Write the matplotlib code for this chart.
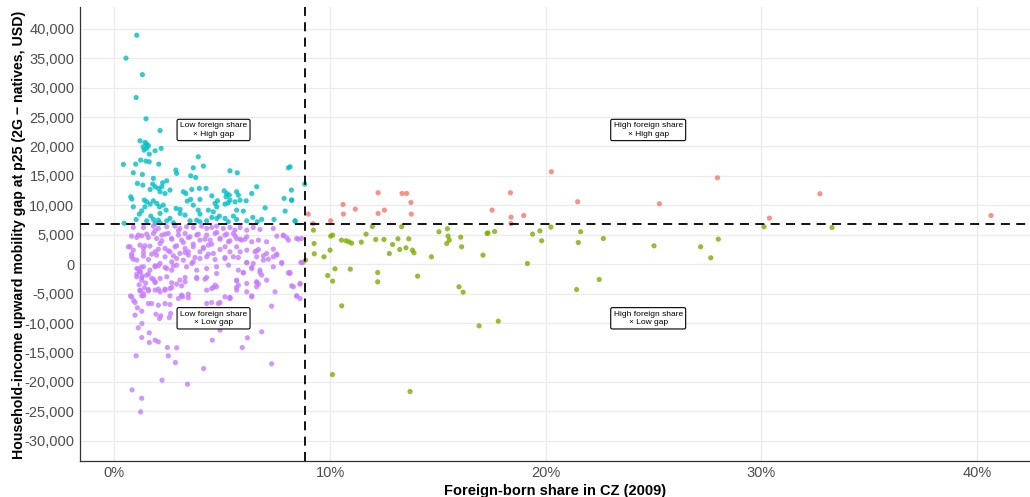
import numpy as np
import matplotlib.pyplot as plt

# foreign-born share (%) and 2G - natives gap (USD) per commuting zone, by quadrant
low_high_x = [1.04, 0.54, 1.30, 1.01, 1.47, 2.12, 0.45,
              1.19, 1.42, 1.50, 1.58, 1.34, 1.50, 1.38, 1.62, 1.89, 2.17,
              0.42, 0.99, 1.22, 1.46, 1.62, 2.06, 3.89, 3.66, 2.85, 2.89,
              4.13, 5.36, 5.70, 0.88, 1.30, 1.81, 3.54, 3.77, 8.07,
              2.43, 2.24, 1.07, 1.32, 1.78, 1.89, 2.04, 2.20, 1.66, 2.12,
              2.35, 2.58, 3.20, 3.32, 3.59, 3.94, 4.25, 4.52, 5.09, 5.21,
              5.18, 5.33, 5.36, 5.28, 5.67, 5.75, 5.83, 5.60, 6.11, 6.37,
              6.60, 8.83, 8.21, 7.87, 8.22, 0.76, 0.81, 1.39, 1.50, 1.66,
              0.88, 1.42, 1.27, 1.81, 1.97, 2.09, 2.27, 2.40, 2.12, 1.69,
              1.16, 1.01, 1.50, 1.81, 2.04, 2.58, 2.86, 3.05, 3.05, 3.38,
              3.54, 3.97, 3.66, 3.28, 3.89, 3.97, 4.36, 4.59, 4.67, 4.78,
              5.13, 4.52, 4.28, 3.82, 3.97, 4.75, 4.87, 5.13, 5.28, 5.52,
              5.67, 5.98, 6.42, 6.83, 6.99, 7.40, 7.92, 8.38, 4.75, 3.51,
              2.74, 2.12, 1.89, 2.43, 5.67, 6.14, 6.63, 8.15, 8.22, 8.38]
low_high_y = [38900, 35000, 32200, 28300, 24700, 22700, 6950,
              20960, 20690, 20400, 20110, 19940, 19670, 19380, 18700, 19260, 19670,
              16950, 17000, 17680, 17510, 17390, 17000, 18240, 16370, 15980, 15420,
              16660, 15860, 15520, 15520, 15240, 14570, 15010, 14730, 16370,
              14160, 13830, 13720, 13430, 13600, 13150, 12870, 13150, 12690, 12300,
              12010, 12580, 12300, 12010, 12690, 12870, 12870, 11610, 12460, 12010,
              11440, 11730, 10880, 10420, 12300, 11730, 10880, 10590, 10760, 12010,
              13150, 13600, 12580, 11170, 10880, 11440, 11050, 10880, 10590, 10200,
              9740, 9740, 9060, 10760, 10320, 9740, 10030, 9180, 8620, 8160,
              8500, 7600, 7360, 7600, 7480, 7770, 9470, 9300, 8620, 10710,
              11000, 11000, 10030, 8330, 9180, 8500, 9180, 8890, 10320, 10760,
              10200, 7940, 7360, 7480, 7200, 7770, 8160, 7770, 7200, 8160,
              9180, 9010, 7940, 7600, 9570, 7600, 9010, 7360, 9740, 7360,
              7020, 7020, 6920, 7360, 7600, 7360, 7200, 16550, 10880, 7310]

low_low_x = [0.88, 1.35, 1.81, 2.04, 2.43, 2.81, 3.04, 3.35, 3.66, 4.05,
             4.28, 4.51, 4.74, 5.05, 5.36, 5.59, 5.83, 6.14, 6.44, 6.75,
             7.37, 7.83, 8.07, 8.45, 8.68,
             0.80, 1.11, 1.50, 1.81, 1.96, 2.20, 2.50, 2.66, 2.97, 3.12,
             3.28, 3.51, 3.82, 3.97, 4.28, 4.44, 4.67, 4.90, 5.13, 5.29,
             5.52, 5.67, 5.90, 6.14, 6.37, 6.68, 7.06, 7.53,
             0.65, 0.88, 1.19, 1.35, 1.65, 1.89, 2.12, 2.35, 2.58, 2.81,
             3.04, 3.28, 3.43, 3.66, 3.97, 4.13, 4.36, 4.59, 4.90, 5.13,
             5.36, 5.67, 5.83, 6.14, 6.52, 6.68, 7.06, 7.53,
             0.80, 1.04, 1.35, 1.58, 1.96, 2.35, 2.66, 2.89, 3.20, 3.43,
             3.66, 3.97, 4.28, 4.67, 5.13, 5.52, 6.14, 6.60, 6.91, 7.37, 7.76,
             1.04, 1.19, 1.35, 1.65, 1.89, 2.12, 2.43, 2.66, 2.89, 3.35,
             3.59, 3.82, 4.28, 4.74, 4.74, 5.29, 5.75, 5.98, 6.37, 6.75,
             6.83, 7.37, 8.07,
             1.04, 1.27, 1.50, 1.73, 1.89, 2.12, 2.43, 2.66, 3.04, 3.28,
             3.82, 4.28, 4.67, 5.67, 5.75, 6.14, 6.60, 7.06, 8.61, 8.30,
             0.80, 1.19, 1.35, 1.58, 1.89, 2.12, 2.35, 2.58, 3.12, 4.28,
             4.51, 4.74, 5.13, 5.67, 6.14, 6.60, 7.45, 8.45, 8.61,
             1.35, 0.96, 1.07, 1.27, 0.96, 1.58, 1.73, 2.04, 2.35, 2.58,
             2.97, 3.17, 3.43, 4.28, 4.51, 4.82, 4.90, 5.36, 6.37, 7.29,
             1.93, 2.15, 2.09, 2.55, 2.61, 1.28, 1.11, 1.27, 1.62, 1.89,
             2.04, 1.62, 2.46, 2.89, 4.54, 4.90, 6.17, 6.83, 5.93, 1.01,
             2.50, 2.83, 4.14, 7.29, 2.21, 3.39, 0.82, 1.27, 1.22,
             8.14, 6.44, 5.36, 8.65, 8.75, 1.20, 1.30, 1.45, 1.15, 1.40,
             1.25, 0.75, 0.90,
             0.73, 0.80, 0.88, 1.04, 1.27, 1.42, 1.35, 1.58, 1.73, 1.89,
             2.04, 2.20, 2.35, 2.50, 2.66, 2.74, 2.89, 2.97, 3.20, 3.28,
             3.43, 3.66, 3.74, 3.89, 4.13, 4.20, 4.36, 4.51, 1.11, 1.04,
             1.27, 1.58, 1.81, 1.89, 2.04, 1.19, 1.27, 1.58, 2.35, 2.66,
             2.89, 3.28, 3.12, 2.04, 2.35, 2.74, 1.89, 3.82, 4.20, 3.43,
             3.12, 2.58,
             4.75, 4.90, 5.21, 5.36, 5.60, 5.83, 6.06, 5.13, 5.75, 6.14,
             6.37, 5.98, 6.75, 6.60, 6.91, 7.14, 7.37, 7.53, 7.76, 8.14,
             8.69, 4.59, 5.67, 5.67, 6.60, 6.68, 8.22, 8.61, 5.36, 6.37,
             8.45, 7.99, 8.53, 7.84]
low_low_y = [6230, 6230, 6460, 6060, 6350, 6460, 6060, 6350, 6230, 6460,
             6060, 6230, 6460, 6060, 6230, 5780, 6230, 5780, 6230, 5890,
             6060, 4930, 4080, 4360, 4360,
             4760, 4930, 5100, 5210, 4360, 4930, 5210, 4360, 4930, 4080,
             5210, 4650, 4930, 4080, 4930, 4080, 5210, 4360, 4930, 3800,
             5210, 4360, 4080, 4650, 3800, 4080, 3800, 4760,
             2950, 2380, 3230, 2660, 3060, 2100, 3510, 2660, 2100, 2950,
             1810, 2660, 2100, 2950, 2100, 2660, 3230, 1810, 2490, 2950,
             2100, 2950, 2100, 2380, 2100, 2490, 1810, 1530,
             1250, 680, 1360, 790, 1530, 1250, 400, 960, 680, 1530,
             400, 960, 1250, 790, 960, 1250, 230, 1250, 680, 1250, 110,
             -740, -1300, -450, -1020, -450, 110, -740, -1020, -170, -450,
             110, -1020, -740, -450, -1590, -170, -1020, -1470, -740, -1020,
             -1870, -450, -1470,
             -2150, -2720, -1870, -2440, -3000, -2440, -2150, -3170, -2720, -3000,
             -2440, -2270, -3570, -2720, -3570, -3290, -3000, -2720, -3290, -3850,
             -5550, -4420, -4990, -4310, -4420, -4700, -4420, -4140, -5270, -4420,
             -4140, -3850, -5550, -4420, -4700, -3850, -4700, -5440, -5840,
             -5380, -6520, -7420, -7990, -8670, -6690, -6690, -6970, -6690, -6860,
             -5840, -5550, -5720, -6690, -6520, -6690, -6520, -5720, -5550, -7140,
             -8500, -8780, -9240, -9070, -8390, -10090, -10820, -12470, -11670, -12920,
             -13200, -13320, -14170, -14220, -12920, -11220, -12520, -11500, -14170, -15580,
             -15580, -16720, -17740, -16940, -19720, -20400, -21360, -22780, -25100,
             -1590, 110, -5840, 300, 300, -1300, -2000, -3200, -3500, -4000,
             -500, -5400, -6200,
             2950, 1700, 850, 4530, 4820, 3120, 1980, 4530, 1700, 5670,
             2550, 3970, 5100, 2270, 4250, 1420, 3120, 5670, 3680, 1980,
             4530, 3400, 1130, 5100, 2830, 4250, 1700, 3400, -850, -1700,
             -2270, -1700, -2550, -3120, -4250, -4530, -5380, -4530, -4250, -3970,
             -3400, -2270, -3680, -280, -570, -280, -280, -2270, -2550, -5100,
             -5380, -5380,
             5380, 4250, 5100, 3970, 4820, 4250, 4250, 1130, 1130, 280,
             -570, -1420, -1420, 2270, 1420, 850, 2550, 1700, 280, -1420,
             280, -3970, -2830, -3970, -3120, -3400, -3680, -3400, -5670, -5380,
             -5380, 4530, 4250, 4820]

high_high_x = [8.99, 9.21, 10.03, 10.60, 10.62, 11.17, 12.23, 12.23, 12.52,
               13.34, 13.55, 13.75, 13.77, 17.51, 18.36, 18.39, 18.39, 18.98,
               20.26, 21.48, 25.27, 27.96, 30.37, 32.71, 40.64]
high_high_y = [8500, 6900, 7370, 10140, 8500, 9350, 12130, 8610, 9180,
               12010, 12010, 10480, 8500, 9180, 12130, 7990, 6900, 8270,
               15700, 10600, 10260, 14680, 7820, 11960, 8270]

high_low_x = [9.23, 9.26, 9.27, 8.87, 9.72, 10.03, 10.12, 10.00, 10.23, 9.89,
              10.12, 10.53, 10.74, 10.87, 11.00, 10.94, 10.54, 10.11, 11.45, 11.67,
              11.96, 12.12, 12.21, 12.21, 12.50, 12.75, 12.90, 13.15, 13.23, 13.32,
              13.52, 13.65, 13.82, 13.89, 14.06, 13.71, 14.70, 15.05, 15.44, 15.47,
              15.53, 15.41, 16.06, 16.10, 15.98, 16.17, 16.91, 17.80, 17.09, 17.28,
              17.32, 17.63, 19.15, 19.39, 19.73, 19.81, 20.24, 21.43, 21.51, 21.62,
              22.48, 22.67, 25.02, 27.18, 27.65, 28.00, 30.12, 33.27]
high_low_y = [5780, 3510, 1760, 680, 1250, 4760, 4930, 2380, -790, -1930,
              -2890, 4080, 3970, 3800, 3570, -850, -7080, -18760, 3740, 5100,
              6400, 4190, -1420, -3010, 4190, 1810, 3340, 4310, 2490, 6350,
              2780, 4310, 2380, 1930, -2040, -21650, 1250, 5500, 6010, 4760,
              4080, 3510, 4590, 2950, -3850, -4760, -10480, -9690, 1530, 5210,
              5320, 5550, 110, 5100, 5660, 3970, 6290, -4310, 3680, 5500,
              -2610, 4360, 3120, 2950, 1080, 4250, 6350, 6230]

share_cut = 8.84
gap_cut = 6800

x_ticks = [0, 10, 20, 30, 40]
y_ticks = list(range(-30000, 40001, 5000))

plt.rcParams['font.family'] = ['Liberation Sans', 'DejaVu Sans']

fig = plt.figure(figsize=(10.3, 4.97), dpi=100)
ax = fig.add_axes([0.0777, 0.073, 0.9223, 0.913])

groups = [
    (low_high_x, low_high_y, '#00BFC4'),
    (low_low_x, low_low_y, '#C77CFF'),
    (high_high_x, high_high_y, '#F8766D'),
    (high_low_x, high_low_y, '#7CAE00'),
]
for gx, gy, col in groups:
    ax.scatter(gx, gy, s=14, color=col, alpha=0.8, edgecolors='none', zorder=3)

ax.axvline(share_cut, color='black', lw=1.3, ls=(0, (5, 3.5)), zorder=4)
ax.axhline(gap_cut, color='black', lw=1.3, ls=(0, (5, 3.5)), zorder=4)

# quadrant labels
box = dict(boxstyle='round,pad=0.35,rounding_size=0.2', fc='white', ec='black', lw=0.8)
quad_labels = [
    (4.6, 22800, 'Low foreign share\n× High gap'),
    (4.6, -9200, 'Low foreign share\n× Low gap'),
    (24.75, 22800, 'High foreign share\n× High gap'),
    (24.75, -9200, 'High foreign share\n× Low gap'),
]
for lx, ly, txt in quad_labels:
    ax.text(lx, ly, txt, ha='center', va='center', fontsize=6, bbox=box,
            linespacing=1.3, zorder=5)

ax.set_xlim(-1.59, 42.45)
ax.set_ylim(-33400, 43700)
ax.set_xticks(x_ticks)
ax.set_xticklabels([f'{t}%' for t in x_ticks])
ax.set_yticks(y_ticks)
ax.set_yticklabels([f'{t:,}' for t in y_ticks])
ax.tick_params(length=0, labelsize=10.5, labelcolor='#4D4D4D', pad=4)
ax.grid(True, color='#EBEBEB', lw=0.9)
ax.set_axisbelow(True)
for side in ['top', 'right']:
    ax.spines[side].set_visible(False)
for side in ['left', 'bottom']:
    ax.spines[side].set_color('#333333')
    ax.spines[side].set_linewidth(0.9)

ax.set_xlabel('Foreign-born share in CZ (2009)', fontsize=10.5, fontweight='bold', labelpad=3)
ax.set_ylabel('Household-income upward mobility gap at p25 (2G \u2212 natives, USD)',
              fontsize=10.2, fontweight='bold', labelpad=3)
ax.yaxis.set_label_coords(-0.057, 0.497)

fig.savefig('out.png', dpi=100)
